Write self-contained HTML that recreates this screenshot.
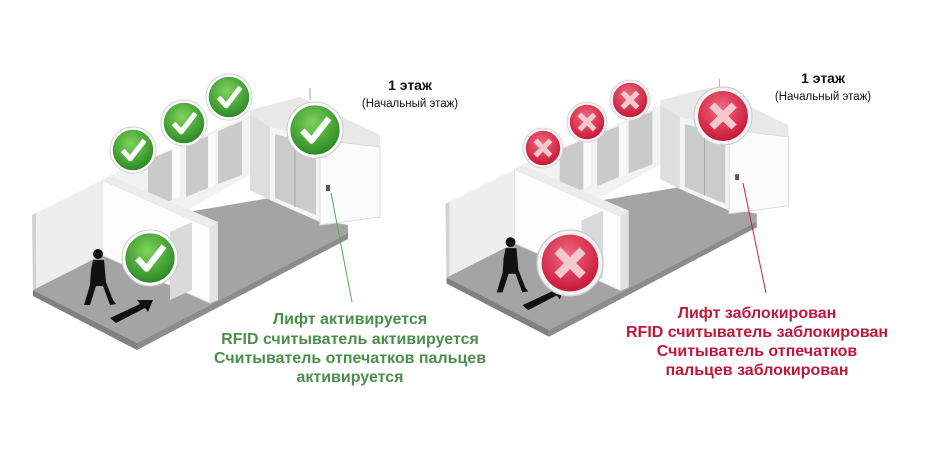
<!DOCTYPE html>
<html><head><meta charset="utf-8"><style>
html,body{margin:0;padding:0;background:#fff;}
svg{display:block;font-family:"Liberation Sans",sans-serif;}
</style></head><body>
<svg width="926" height="463" viewBox="0 0 926 463">
<defs>
<g id="scene">
  <polygon points="33,290 137,343 348,233 348,225 320,220 270,198 182,213 100,248 33,280" fill="#a4a4a4"/>
  <polygon points="33,290 137,343 137,350 33,296" fill="#808080"/>
  <polygon points="137,343 348,233 348,239 137,350" fill="#8c8c8c"/>
  <polygon points="108,176 250,115 250,175 182,213 108,245" fill="#f2f2f2"/>
  <polygon points="148,160 172,150 172,200 148,210" fill="#cacaca"/>
  <polygon points="186,145 208,136 208,188 186,197" fill="#cacaca"/>
  <polygon points="218,131 242,121 242,175 218,184" fill="#cacaca"/>
  <polygon points="172,150 180,146 180,196 172,200" fill="#fafafa"/>
  <polygon points="208,136 215,133 215,186 208,188" fill="#fafafa"/>
  <polygon points="250,110 300,97 380,135 380,147 320,140 270,127 250,130" fill="#e8e8e8"/>
  <polygon points="250,115 270,127 270,200 250,190" fill="#dedede"/>
  <polygon points="270,127 320,140 320,222 270,200" fill="#f4f4f4"/>
  <polygon points="275,134 316,145 316,215 275,198" fill="#cbcbcb"/>
  <line x1="295" y1="140" x2="295" y2="207" stroke="#aaa"/>
  <polygon points="320,140 380,147 380,217 320,225" fill="#fbfbfb" stroke="#ddd"/>
  <line x1="310" y1="88" x2="310" y2="100" stroke="#aaa"/>
  <rect x="326" y="185" width="4" height="6" fill="#555"/>
  <polygon points="32,215 102,180 102,255 33,290" fill="#eeeeee"/>
  <polygon points="32,215 36,213 36,288 33,290" fill="#d2d2d2"/>
  <polygon points="102,180 210,228 210,303 102,255" fill="#fdfdfd" stroke="#e4e4e4"/>
  <polygon points="170,232 192,222 192,290 170,300" fill="#dadada"/>
  <polygon points="210,228 218,222 218,300 210,303" fill="#e2e2e2"/>
  <polygon points="102,180 110,176 218,222 210,228" fill="#ececec"/>
  <polygon points="110,318 140,304 137,300 153,300 148,312 145,308 116,323" fill="#111"/>
  <g fill="#111">
    <circle cx="98" cy="254" r="5"/>
    <path d="M93,260 L104,260 L106,282 L113,300 L116,304 L110,305 L103,286 L96,286 L90,305 L84,305 L90,285 L91,270 Z"/>
  </g>
</g>
<radialGradient id="gg" cx="45%" cy="35%" r="65%"><stop offset="0" stop-color="#7ed35a"/><stop offset="1" stop-color="#2c8a26"/></radialGradient>
<radialGradient id="rg" cx="45%" cy="35%" r="65%"><stop offset="0" stop-color="#f06a80"/><stop offset="1" stop-color="#c81838"/></radialGradient>
<g id="ok"><circle r="1" fill="#fff" stroke="#ccc" stroke-width="0.04"/><circle r="0.88" fill="url(#gg)"/><path d="M-0.45,0.02 L-0.12,0.38 L0.5,-0.42" fill="none" stroke="#fff" stroke-width="0.22" stroke-linejoin="round"/></g>
<g id="no"><circle r="1" fill="#f3f3f3" stroke="#ccc" stroke-width="0.04"/><circle r="0.86" fill="url(#rg)"/><path d="M-0.38,-0.38 L0.38,0.38 M0.38,-0.38 L-0.38,0.38" stroke="#f4c8cf" stroke-width="0.26"/></g>
</defs>

<use href="#scene"/>
<g transform="translate(414,-8) scale(0.985)"><use href="#scene"/></g>

<use href="#ok" transform="translate(133,150) scale(23)"/>
<use href="#ok" transform="translate(184,123) scale(23)"/>
<use href="#ok" transform="translate(229,97) scale(23)"/>
<use href="#ok" transform="translate(315,130) scale(28)"/>
<use href="#ok" transform="translate(150,258) scale(28)"/>

<use href="#no" transform="translate(543,148) scale(20)"/>
<use href="#no" transform="translate(587,122) scale(20)"/>
<use href="#no" transform="translate(630,100) scale(20)"/>
<use href="#no" transform="translate(723,116) scale(29)"/>
<use href="#no" transform="translate(570,263) scale(33)"/>

<line x1="331" y1="193" x2="352" y2="302" stroke="#4caf50" stroke-width="1"/>
<line x1="743" y1="183" x2="766" y2="293" stroke="#cc2244" stroke-width="1"/>

<text x="410" y="90" text-anchor="middle" font-size="14" font-weight="bold" fill="#111">1 этаж</text>
<text x="410" y="107" text-anchor="middle" font-size="11.5" fill="#111">(Начальный этаж)</text>
<text x="823" y="83" text-anchor="middle" font-size="14" font-weight="bold" fill="#111">1 этаж</text>
<text x="823" y="100" text-anchor="middle" font-size="11.5" fill="#111">(Начальный этаж)</text>

<g font-size="16" font-weight="bold" fill="#4a8f4a" text-anchor="middle">
<text x="350" y="324">Лифт активируется</text>
<text x="350" y="344">RFID считыватель активируется</text>
<text x="350" y="363">Считыватель отпечатков пальцев</text>
<text x="350" y="382">активируется</text>
</g>
<g font-size="16" font-weight="bold" fill="#c0183a" text-anchor="middle">
<text x="757" y="318">Лифт заблокирован</text>
<text x="757" y="337">RFID считыватель заблокирован</text>
<text x="757" y="356">Считыватель отпечатков</text>
<text x="757" y="375">пальцев заблокирован</text>
</g>
</svg>
</body></html>
